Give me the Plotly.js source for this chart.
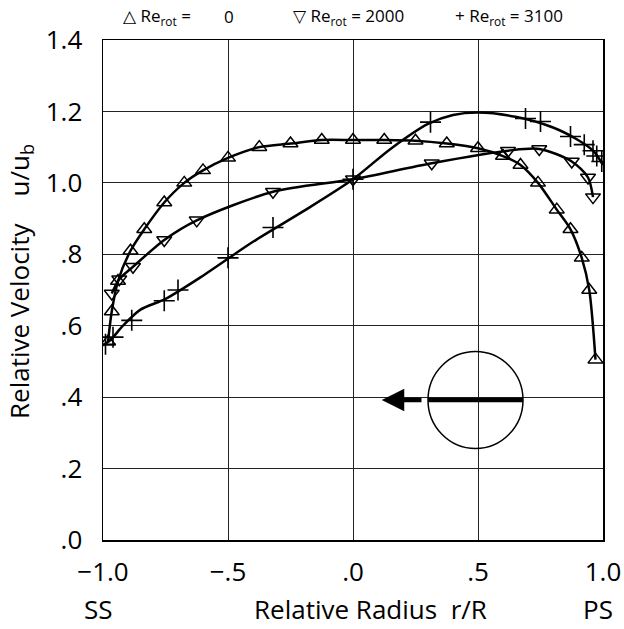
<!DOCTYPE html>
<html>
<head>
<meta charset="utf-8">
<script src="https://cdn.plot.ly/plotly-3.0.1.min.js"></script>
<style>html,body{margin:0;padding:0;background:#fff;}#chart{width:624px;height:629px;}</style>
</head>
<body>
<div id="chart"></div>
<script>
// Re_rot = 0 (upward triangles)
var re0X = [-0.98,-0.965,-0.94,-0.89,-0.835,-0.755,-0.675,-0.6,-0.5,-0.375,-0.25,-0.125,0,0.125,0.25,0.375,0.5,0.6,0.67,0.74,0.815,0.87,0.915,0.945,0.97];
var re0Y = [0.555,0.64,0.725,0.81,0.87,0.945,1.0,1.035,1.07,1.10,1.11,1.12,1.12,1.12,1.118,1.11,1.097,1.075,1.05,1.0,0.925,0.87,0.79,0.70,0.505];
// Re_rot = 2000 (downward triangles)
var re2000X = [-0.965,-0.935,-0.88,-0.755,-0.625,-0.32,0,0.315,0.62,0.745,0.875,0.94,0.96];
var re2000Y = [0.69,0.73,0.765,0.84,0.895,0.975,1.01,1.055,1.09,1.095,1.06,1.015,0.96];
// Re_rot = 3100 (plus)
var re3100X = [-0.99,-0.96,-0.885,-0.755,-0.70,-0.5,-0.32,0,0.31,0.69,0.75,0.87,0.925,0.96,0.975,0.995];
var re3100Y = [0.548,0.568,0.615,0.67,0.70,0.79,0.875,1.01,1.17,1.18,1.172,1.13,1.107,1.09,1.075,1.06];
// fitted curve for Re_rot = 3100
var fit3100X = [-1.0,-0.97,-0.92,-0.85,-0.75,-0.6,-0.4,-0.2,0,0.15,0.3,0.4,0.5,0.65,0.8,0.9,0.96,1.0];
var fit3100Y = [0.545,0.56,0.6,0.645,0.675,0.74,0.835,0.92,1.01,1.095,1.165,1.19,1.197,1.185,1.155,1.12,1.09,1.05];

var yTickVals = [0,0.2,0.4,0.6,0.8,1.0,1.2,1.4];
var yTickText = ['.0','.2','.4','.6','.8','1.0','1.2','1.4'];
var xTickVals = [-1,-0.5,0,0.5,1];
var xTickText = ['\u22121.0','\u2212.5','.0','.5','1.0'];

var FONT = 'Open Sans, Noto Sans, sans-serif';
var lineStyle = {color:'#000', width:2.5, shape:'spline', smoothing:0.8};

var traces = [
  {x:re0X, y:re0Y, mode:'lines+markers', line:lineStyle,
   marker:{symbol:'triangle-up-open', size:13, color:'#000', line:{width:1.5, color:'#000'}}},
  {x:re2000X, y:re2000Y, mode:'lines+markers', line:lineStyle,
   marker:{symbol:'triangle-down-open', size:13, color:'#000', line:{width:1.5, color:'#000'}}},
  {x:fit3100X, y:fit3100Y, mode:'lines', line:lineStyle},
  {x:re3100X, y:re3100Y, mode:'markers',
   marker:{symbol:'cross-thin-open', size:15, color:'#000', line:{width:1.6, color:'#000'}}}
];

var legY = (540-17)/500;
var botY = (540-609)/500;
function px(v){ return (v-103)/500; }
var SP = '\u00A0';

var layout = {
  width:624, height:629,
  margin:{l:103, r:21, t:40, b:89},
  paper_bgcolor:'#fff', plot_bgcolor:'#fff',
  showlegend:false,
  font:{family:FONT, color:'#000', size:20},
  xaxis:{range:[-1,1], tickvals:xTickVals, ticktext:xTickText, showgrid:true, gridcolor:'#222', gridwidth:1,
         zeroline:false, showline:true, mirror:true, linecolor:'#000', linewidth:1.5, ticks:'', ticklabelstandoff:8,
         tickfont:{family:FONT, size:26, color:'#000'}},
  yaxis:{range:[0,1.4], tickvals:yTickVals, ticktext:yTickText, showgrid:true, gridcolor:'#222', gridwidth:1,
         zeroline:false, showline:true, mirror:true, linecolor:'#000', linewidth:1.5, ticks:'', ticklabelstandoff:14,
         tickfont:{family:FONT, size:26, color:'#000'}},
  shapes:[
    {type:'circle', xref:'x', yref:'y', x0:0.30, x1:0.68, y0:0.256, y1:0.528, line:{color:'#000', width:1.5}},
    {type:'line', xref:'x', yref:'y', x0:0.30, x1:0.68, y0:0.392, y1:0.392, line:{color:'#000', width:4.5}}
  ],
  annotations:[
    {xref:'x', yref:'y', x:0.115, y:0.392, ax:0.28, ay:0.392, axref:'x', ayref:'y', text:'', showarrow:true,
     arrowhead:2, arrowsize:1, arrowwidth:4.5, arrowcolor:'#000'},
    {xref:'paper', yref:'paper', x:px(20), y:(540-282)/500, xanchor:'center', yanchor:'middle', showarrow:false, textangle:-90,
     text:'Relative Velocity' + SP+SP+SP+SP + 'u/u<sub>b</sub>', font:{family:FONT, size:26, color:'#000'}},
    {xref:'paper', yref:'paper', x:px(121), y:legY, xanchor:'left', yanchor:'middle', showarrow:false,
     text:'\u25B3 Re<sub>rot</sub> =', font:{family:FONT, size:17, color:'#000'}},
    {xref:'paper', yref:'paper', x:px(229), y:legY, xanchor:'center', yanchor:'middle', showarrow:false,
     text:'0', font:{family:FONT, size:17, color:'#000'}},
    {xref:'paper', yref:'paper', x:px(291), y:legY, xanchor:'left', yanchor:'middle', showarrow:false,
     text:'\u25BD Re<sub>rot</sub> = 2000', font:{family:FONT, size:17, color:'#000'}},
    {xref:'paper', yref:'paper', x:px(453), y:legY, xanchor:'left', yanchor:'middle', showarrow:false,
     text:'+ Re<sub>rot</sub> = 3100', font:{family:FONT, size:17, color:'#000'}},
    {xref:'paper', yref:'paper', x:px(98), y:botY, xanchor:'center', yanchor:'middle', showarrow:false,
     text:'SS', font:{family:FONT, size:26, color:'#000'}},
    {xref:'paper', yref:'paper', x:px(370), y:botY, xanchor:'center', yanchor:'middle', showarrow:false,
     text:'Relative Radius' + SP+SP + 'r/R', font:{family:FONT, size:26, color:'#000'}},
    {xref:'paper', yref:'paper', x:px(598), y:botY, xanchor:'center', yanchor:'middle', showarrow:false,
     text:'PS', font:{family:FONT, size:26, color:'#000'}}
  ]
};

Plotly.newPlot('chart', traces, layout, {displayModeBar:false, staticPlot:true});
</script>
</body>
</html>
